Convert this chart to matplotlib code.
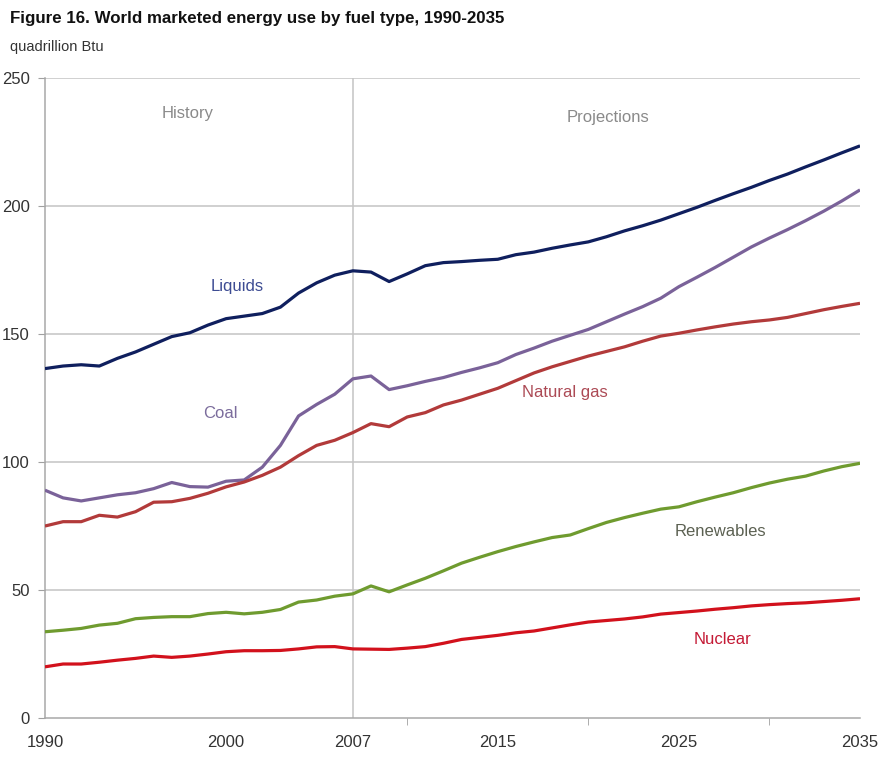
import matplotlib
matplotlib.use("Agg")
import matplotlib.pyplot as plt
from matplotlib import font_manager

years = list(range(1990, 2036))

liquids = [136.5, 137.5, 138.0, 137.5, 140.5, 143.0, 146.0, 149.0, 150.5, 153.5,
           156.0, 157.0, 158.0, 160.5, 166.0, 170.0, 173.0, 174.7, 174.2, 170.5,
           173.5, 176.7, 177.9, 178.3, 178.8, 179.2, 181.0, 182.0, 183.5, 184.8,
           186.0, 188.0, 190.3, 192.3, 194.5, 197.0, 199.5, 202.2, 204.8, 207.3,
           210.0, 212.5, 215.3, 218.0, 220.8, 223.5]
coal = [89.0, 86.0, 84.8, 86.0, 87.2, 88.0, 89.6, 92.0, 90.4, 90.2,
        92.5, 93.0, 98.0, 106.5, 118.0, 122.5, 126.5, 132.5, 133.6, 128.3,
        129.8, 131.5, 133.0, 135.0, 136.8, 138.8, 142.0, 144.5, 147.2, 149.5,
        151.8, 154.8, 157.8, 160.7, 164.0, 168.5, 172.2, 176.0, 180.0, 184.0,
        187.5, 190.8, 194.3, 198.0, 202.0, 206.3]
natural_gas = [75.0, 76.7, 76.7, 79.2, 78.5, 80.6, 84.3, 84.5, 85.8, 87.8,
               90.3, 92.2, 94.8, 98.0, 102.5, 106.5, 108.5, 111.5, 115.0, 113.8,
               117.6, 119.3, 122.3, 124.2, 126.5, 128.8, 131.8, 134.8, 137.2, 139.3,
               141.4, 143.2, 145.0, 147.2, 149.2, 150.3, 151.6, 152.8, 153.9, 154.8,
               155.5, 156.5, 158.0, 159.5, 160.8, 162.0]
renewables = [33.7, 34.3, 35.0, 36.3, 37.0, 38.8, 39.3, 39.6, 39.6, 40.8,
              41.3, 40.7, 41.3, 42.4, 45.3, 46.1, 47.6, 48.5, 51.6, 49.3,
              52.0, 54.6, 57.5, 60.5, 62.8, 65.0, 67.0, 68.8, 70.5, 71.5,
              74.0, 76.4, 78.3, 80.0, 81.6, 82.5, 84.5, 86.3, 88.0, 90.0,
              91.8, 93.3, 94.5, 96.5, 98.2, 99.5]
nuclear = [20.0, 21.1, 21.1, 21.8, 22.6, 23.3, 24.2, 23.7, 24.2, 25.0,
           25.9, 26.3, 26.3, 26.4, 27.0, 27.8, 27.9, 27.0, 26.9, 26.8,
           27.3, 27.9, 29.2, 30.7, 31.5, 32.3, 33.3, 34.0, 35.2, 36.4,
           37.5, 38.1, 38.7, 39.5, 40.6, 41.2, 41.8, 42.5, 43.1, 43.8,
           44.3, 44.7, 45.0, 45.5, 46.0, 46.6]

label_years = [1990, 2000, 2007, 2015, 2025, 2035]
mark_years = [1990, 2000, 2010, 2020, 2030]
y_ticks = [0, 50, 100, 150, 200, 250]

installed = {f.name for f in font_manager.fontManager.ttflist}
narrow = "Liberation Sans Narrow" if "Liberation Sans Narrow" in installed else "Liberation Sans"
plt.rcParams["font.family"] = [narrow, "DejaVu Sans"]

series = [
    ("Liquids", liquids, "#0f1f5e", "#3d4c93", 2000.6, 168.4),
    ("Coal", coal, "#7a6299", "#7b6c9c", 1999.7, 119.0),
    ("Natural gas", natural_gas, "#b23a3a", "#ac4a55", 2018.7, 127.3),
    ("Renewables", renewables, "#6f9b2f", "#5c6152", 2027.3, 73.0),
    ("Nuclear", nuclear, "#d2111c", "#c41a35", 2027.4, 30.5),
]

figure = plt.figure(figsize=(8.8, 7.62), dpi=100)
axis = figure.add_axes([0.0511, 0.0577, 0.9262, 0.8399])

for y in y_ticks[1:]:
    axis.axhline(y, color="#c4c4c4", linewidth=1.1, zorder=1)
axis.axvline(2007, color="#c4c4c4", linewidth=1.1, zorder=1)

for name, values, color, text_color, tx, ty in series:
    axis.plot(years, values, color=color, linewidth=2.3, solid_capstyle="butt", zorder=3)
    axis.text(tx, ty, name, color=text_color, fontsize=12, ha="center", va="center", zorder=4)

axis.text(1997.9, 236.3, "History", color="#8a8a8a", fontsize=12, ha="center", va="center")
axis.text(2021.1, 234.4, "Projections", color="#8a8a8a", fontsize=12, ha="center", va="center")

axis.set_xlim(1990, 2035)
axis.set_ylim(0, 250)

axis.set_xticks(label_years)
axis.set_xticklabels([str(y) for y in label_years])
axis.set_xticks(mark_years, minor=True)
axis.tick_params(axis="x", which="major", length=0, pad=12, labelsize=12, labelcolor="#333333")
axis.tick_params(axis="x", which="minor", length=5, color="#a0a0a0", direction="out")
axis.set_yticks(y_ticks)
axis.tick_params(axis="y", length=5, color="#a0a0a0", labelsize=12, labelcolor="#333333", pad=6)

for side in ["top", "right"]:
    axis.spines[side].set_visible(False)
for side in ["left", "bottom"]:
    axis.spines[side].set_color("#a8a8a8")
    axis.spines[side].set_linewidth(1.1)

figure.text(0.0114, 0.976, "Figure 16. World marketed energy use by fuel type, 1990-2035",
            fontsize=12.2, fontweight="bold", color="#111111", ha="left", va="center")
figure.text(0.0114, 0.938, "quadrillion Btu", fontsize=10.5, color="#333333", ha="left", va="center")

figure.savefig("out.png", dpi=100, facecolor="white")
